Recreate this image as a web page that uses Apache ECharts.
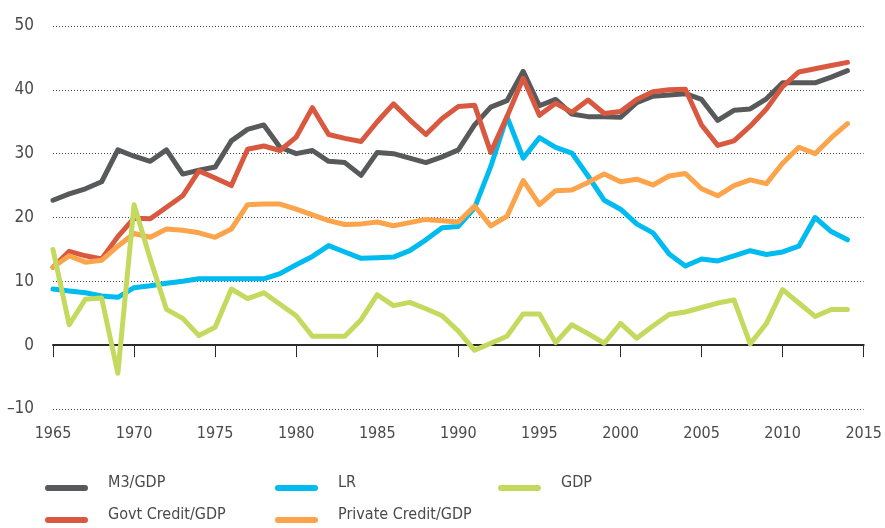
<!DOCTYPE html>
<html>
<head>
<meta charset="utf-8">
<script src="https://cdn.jsdelivr.net/npm/echarts@6/dist/echarts.min.js"></script>
<style>
html,body{margin:0;padding:0;background:#fff;}
#c{width:885px;height:528px;}
</style>
</head>
<body>
<div id="c"></div>
<script>
const years = [];
for (let y = 1965; y <= 2014; y++) years.push(y);

const m3Gdp = [22.7,23.7,24.5,25.6,30.6,29.6,28.8,30.6,26.8,27.4,
  27.9,32.0,33.8,34.5,31.0,30.0,30.5,28.8,28.6,26.6,
  30.2,30.0,29.3,28.6,29.5,30.6,34.5,37.3,38.3,42.9,
  37.5,38.5,36.2,35.8,35.8,35.7,38.0,39.0,39.2,39.4,
  38.5,35.2,36.8,37.0,38.6,41.1,41.1,41.1,42.0,43.0];

const lr = [8.8,8.5,8.2,7.7,7.5,9.0,9.3,9.7,10.0,10.4,
  10.4,10.4,10.4,10.4,11.2,12.6,13.9,15.6,14.6,13.6,
  13.7,13.8,14.8,16.5,18.4,18.6,21.5,28.0,35.8,29.3,
  32.5,31.0,30.1,26.5,22.7,21.3,19.0,17.6,14.3,12.4,
  13.5,13.2,14.0,14.8,14.2,14.6,15.5,20.0,17.8,16.5];

const gdp = [15.0,3.2,7.2,7.4,-4.4,22.0,13.5,5.6,4.2,1.5,
  2.8,8.8,7.3,8.2,6.4,4.6,1.4,1.4,1.4,4.0,
  7.9,6.2,6.7,5.7,4.6,2.2,-0.8,0.3,1.4,4.9,
  4.9,0.4,3.2,1.8,0.3,3.4,1.1,3.0,4.8,5.2,
  5.9,6.6,7.1,0.2,3.4,8.7,6.6,4.5,5.6,5.6];

const govtCredit = [12.2,14.7,14.0,13.5,17.0,19.9,19.8,21.6,23.4,27.3,
  26.2,25.0,30.7,31.2,30.5,32.6,37.2,33.0,32.4,31.9,
  35.0,37.8,35.3,33.0,35.5,37.4,37.6,30.2,35.8,41.8,
  36.0,37.9,36.5,38.4,36.3,36.6,38.5,39.7,40.0,40.1,
  34.5,31.3,32.0,34.3,37.0,40.5,42.8,43.3,43.8,44.3];

const privateCredit = [12.2,14.0,13.0,13.3,15.5,17.5,16.9,18.2,18.0,17.6,
  16.9,18.2,22.0,22.1,22.1,21.3,20.4,19.5,18.9,19.0,
  19.3,18.7,19.2,19.7,19.5,19.3,21.8,18.7,20.2,25.8,
  22.0,24.2,24.3,25.5,26.8,25.6,26.0,25.1,26.5,26.9,
  24.5,23.4,25.0,25.9,25.3,28.5,31.0,30.0,32.5,34.7];

const seriesNames = ['M3/GDP','LR','GDP','Govt Credit/GDP','Private Credit/GDP'];
const xTicks = {min:1965, max:2015, step:5};
const yTicks = {min:-10, max:50, step:10};

const colors = {
  'M3/GDP':'#58595b',
  'LR':'#00bbf0',
  'GDP':'#c4da5e',
  'Govt Credit/GDP':'#d95940',
  'Private Credit/GDP':'#fba44c'
};

const FONT = "'DejaVu Sans Condensed','Liberation Sans',sans-serif";
// legend marker: rounded bar sitting in the lower part of its box
const LEGEND_ICON = 'path://M0,0L0,0M3,10L40,10A3,3,0,0,1,40,16L3,16A3,3,0,0,1,3,10Z';

function pairs(arr){ return arr.map((v,i)=>[years[i], v]); }

function mkSeries(name, arr, z){
  return {
    name: name, type:'line', data: pairs(arr), showSymbol:false, symbol:'none',
    z: z, animation:false,
    lineStyle:{color: colors[name], width:5, cap:'round', join:'round'},
    itemStyle:{color: colors[name]}
  };
}

const legendPos = [
  {name:'M3/GDP', left:45, top:475},
  {name:'LR', left:275, top:475},
  {name:'GDP', left:498, top:475},
  {name:'Govt Credit/GDP', left:45, top:507},
  {name:'Private Credit/GDP', left:275, top:507}
];

const chart = echarts.init(document.getElementById('c'), null, {renderer:'canvas'});
chart.setOption({
  animation:false,
  backgroundColor:'#fff',
  grid:{left:53, right:19, top:26, bottom:119, containLabel:false},
  xAxis:{
    type:'value', min:xTicks.min, max:xTicks.max, interval:xTicks.step,
    axisLine:{show:true, lineStyle:{color:'#2b2b2b', width:2}},
    axisTick:{show:true, length:12, lineStyle:{color:'#2b2b2b', width:1}},
    axisLabel:{margin:17, color:'#4a4a4a', fontSize:16, fontFamily:FONT, formatter:v=>String(v)},
    splitLine:{show:false}
  },
  yAxis:{
    type:'value', min:yTicks.min, max:yTicks.max, interval:yTicks.step,
    axisLine:{show:false}, axisTick:{show:false},
    axisLabel:{margin:19, color:'#4a4a4a', fontSize:17, fontFamily:FONT,
      formatter:v=> v<0 ? '\u2013'+Math.abs(v) : String(v)},
    splitLine:{show:true, lineStyle:{color:'#444', width:1, type:[1,2]}}
  },
  legend: legendPos.map(p=>({
    data:[{name:p.name, icon:LEGEND_ICON}], left:p.left, top:p.top, orient:'horizontal',
    itemWidth:43, itemHeight:16, itemGap:0, padding:0,
    selectedMode:false,
    itemStyle:{borderWidth:0},
    textStyle:{color:'#4a4a4a', fontSize:16, fontFamily:FONT, padding:[0,0,0,15]}
  })),
  series:[
    mkSeries('M3/GDP', m3Gdp, 2),
    mkSeries('LR', lr, 3),
    mkSeries('Govt Credit/GDP', govtCredit, 4),
    mkSeries('Private Credit/GDP', privateCredit, 5),
    mkSeries('GDP', gdp, 6)
  ]
});
</script>
</body>
</html>
